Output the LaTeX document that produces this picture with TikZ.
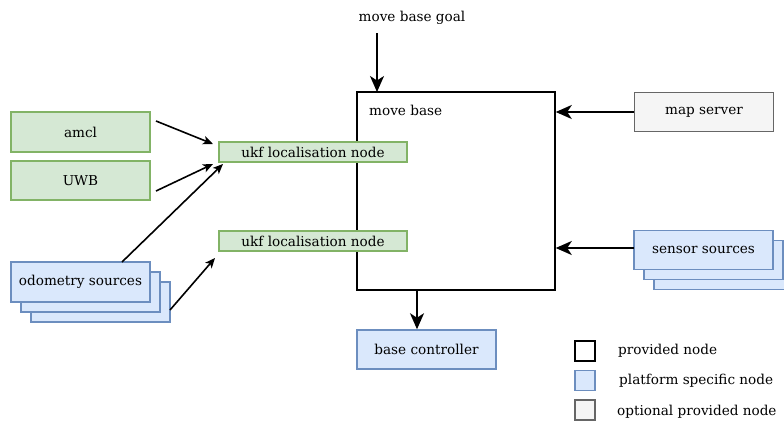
\documentclass[tikz,border=0pt]{standalone}
\usepackage{fontspec}
\setmainfont{DejaVu Serif}
\usetikzlibrary{arrows.meta}
\definecolor{gfill}{HTML}{D5E8D4}
\definecolor{gline}{HTML}{82B366}
\definecolor{bfill}{HTML}{DAE8FC}
\definecolor{bline}{HTML}{6C8EBF}
\definecolor{ofill}{HTML}{F5F5F5}
\definecolor{oline}{HTML}{666666}
\newcommand\labelfont{\fontsize{13.6}{16}\selectfont}
\tikzset{
  box/.style={rectangle, inner sep=0pt, line width=1.5pt, font=\labelfont},
  greenbox/.style={box, draw=gline, fill=gfill},
  bluebox/.style={box, draw=bline, fill=bfill},
  greybox/.style={box, draw=oline, fill=ofill},
  plainbox/.style={box, draw=black, fill=white},
  txt/.style={inner sep=0pt, font=\labelfont},
  bigarrow/.style={line width=1.8pt, -{Stealth[length=16pt, width=14pt, inset=4.5pt]}},
  smallarrow/.style={line width=1.6pt, -{Stealth[length=10pt, width=8.5pt, inset=2.5pt]}},
}
\begin{document}
\begin{tikzpicture}[x=1pt, y=-1pt]
\useasboundingbox (0,0) rectangle (784,423);

% localisation sources
\node[greenbox, minimum width=139pt, minimum height=40pt] (amcl) at (80.5,132) {amcl};
\node[greenbox, minimum width=139pt, minimum height=39pt] (uwb) at (80.5,180.5) {UWB};

% stacked odometry sources
\node[bluebox, minimum width=139pt, minimum height=40pt] (odo3) at (100.5,302) {};
\node[bluebox, minimum width=139pt, minimum height=40pt] (odo2) at (90.5,292) {};
\node[bluebox, minimum width=139pt, minimum height=40pt] (odo) at (80.5,282) {odometry sources};

% move base
\node[plainbox, minimum width=198pt, minimum height=198pt] (mb) at (456,191) {};
\node[txt, anchor=west] (mblabel) at (369,110) {move base};

% localisation nodes
\node[greenbox, minimum width=188pt, minimum height=20pt] (ukfa) at (313,152) {ukf localisation node};
\node[greenbox, minimum width=188pt, minimum height=20pt] (ukfb) at (313,241) {ukf localisation node};

% goal
\node[txt] (goal) at (412,18) {move base goal};
\coordinate (goalend) at (377,33);

% map server
\node[greybox, minimum width=139pt, minimum height=39pt] (map) at (704,112) {map server};

% stacked sensor sources
\node[bluebox, minimum width=139pt, minimum height=39pt] (sen3) at (723.5,270) {};
\node[bluebox, minimum width=139pt, minimum height=39pt] (sen2) at (713.5,260) {};
\node[bluebox, minimum width=139pt, minimum height=39pt] (sen) at (703.5,250) {sensor sources};

% base controller
\node[bluebox, minimum width=139pt, minimum height=39pt] (bc) at (426.5,349.5) {base controller};

% connectors
\draw[bigarrow] (goalend) -- (377,92);
\draw[bigarrow] (map.west) -- (map.west -| mb.east);
\draw[bigarrow] (634,248) -- (mb.east |- 0,248);
\draw[bigarrow] (417,290) -- (bc.north -| 417,0);
\coordinate (a1) at (156,121);
\coordinate (a2) at (213,144);
\coordinate (u1) at (156,191);
\coordinate (u2) at (213,164);
\coordinate (o1) at (122,262);
\coordinate (o2) at (223,164);
\coordinate (p1) at (170,310);
\coordinate (p2) at (215,258);
\draw[smallarrow] (a1) -- (a2);
\draw[smallarrow] (u1) -- (u2);
\draw[smallarrow] (o1) -- (o2);
\draw[smallarrow] (p1) -- (p2);

% legend
\node[plainbox, minimum size=20pt] (lg1) at (585,351) {};
\node[bluebox, minimum size=20pt] (lg2) at (585,380.5) {};
\node[greybox, minimum size=20pt] (lg3) at (585,410) {};
\node[txt, anchor=west] (lt1) at (618,351) {provided node};
\node[txt, anchor=west] (lt2) at (619,381) {platform specific node};
\node[txt, anchor=west] (lt3) at (617,412) {optional provided node};
\end{tikzpicture}
\end{document}
